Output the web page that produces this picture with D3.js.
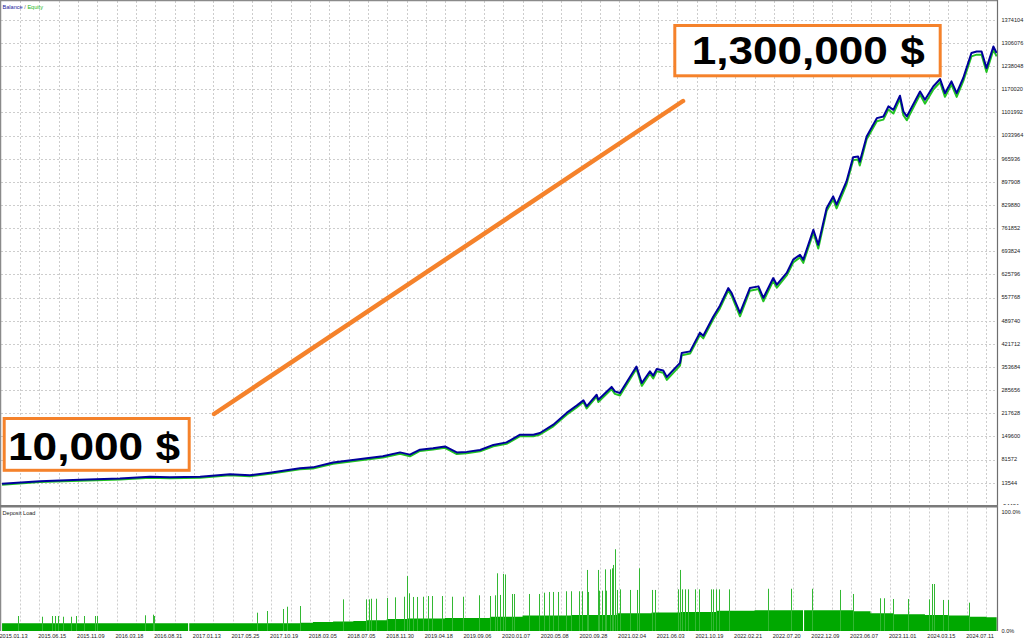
<!DOCTYPE html>
<html><head><meta charset="utf-8">
<script src="https://cdn.jsdelivr.net/npm/d3@7"></script>
<style>html,body{margin:0;padding:0;background:#fff;} svg{display:block;}</style>
</head><body>
<svg id="c" width="1024" height="640"></svg>
<script>
// ---------- DATA ----------
const axisDates = ["2015.01.13","2015.06.15","2015.11.09","2016.03.18","2016.08.31","2017.01.13","2017.05.25",
  "2017.10.19","2018.03.05","2018.07.05","2018.11.30","2019.04.18","2019.09.06","2020.01.07","2020.05.08",
  "2020.09.28","2021.02.04","2021.06.03","2021.10.19","2022.02.21","2022.07.20","2022.12.09","2023.06.07",
  "2023.11.01","2024.03.15","2024.07.11"];
const yTickValues = [1374104,1306076,1238048,1170020,1101992,1033964,965936,897908,829880,761852,693824,
  625796,557768,489740,421712,353684,285656,217628,149600,81572,13544,-54484];
const loadTickLabels = ["100.0%","0.0%"];

const curveDates = ["2014-11-03","2015-04-02","2015-09-04","2016-01-24","2016-05-17","2016-08-11","2016-11-28",
  "2017-03-11","2017-05-18","2017-08-01","2017-11-21","2018-01-06","2018-03-17","2018-07-01","2018-08-31",
  "2018-11-05","2018-12-12","2019-01-17","2019-03-05","2019-04-17","2019-05-30","2019-07-05","2019-08-23",
  "2019-10-06","2019-11-17","2019-12-30","2020-02-10","2020-03-02","2020-04-13","2020-05-28","2020-07-04",
  "2020-07-29","2020-08-10","2020-09-16","2020-09-22","2020-11-06","2020-11-17","2020-12-04","2021-01-28",
  "2021-02-14","2021-03-11","2021-03-21","2021-04-01","2021-04-21","2021-05-02","2021-06-13","2021-06-19",
  "2021-07-19","2021-08-23","2021-09-04","2021-10-10","2021-11-01","2021-11-28","2021-12-09","2022-01-05",
  "2022-02-06","2022-03-08","2022-03-27","2022-05-04","2022-05-18","2022-06-25","2022-07-20","2022-08-14",
  "2022-08-26","2022-10-02","2022-10-20","2022-11-20","2022-12-15","2022-12-31","2023-02-15","2023-03-18",
  "2023-04-10","2023-04-18","2023-05-20","2023-07-01","2023-07-26","2023-08-14","2023-09-02","2023-09-27",
  "2023-10-10","2023-10-23","2023-12-09","2023-12-26","2024-01-24","2024-02-17","2024-03-05","2024-03-26",
  "2024-04-11","2024-05-01","2024-05-26","2024-06-11","2024-06-26","2024-07-11","2024-08-01","2024-08-11"];
const balance = [10000,18000,22000,26000,31000,29500,31000,38500,35500,43000,56000,58500,73000,85000,91000,
  102500,96000,110500,114500,120000,102500,104000,109500,124500,132000,154500,154500,159500,184000,218500,240000,
  255500,238000,272000,257500,295000,282000,277000,355000,306500,340500,328000,347500,343500,324000,365500,394500,
  399500,454500,445500,502000,533500,585500,571000,512500,585500,590500,556500,615000,595500,630000,669000,683500,
  669000,757000,713000,821000,855000,830500,899000,970000,972500,957000,1031000,1085000,1090000,1119500,1109500,1151000,
  1104500,1090000,1163500,1139000,1178000,1200000,1158500,1193000,1158500,1203000,1276500,1281000,1281000,1232000,1295500,1276500];
const equity = [10000,17500,21500,25500,30500,29000,30500,37500,34500,42000,55000,57500,71500,84000,89500,
  101000,93500,109000,113000,118500,100000,102500,108000,122500,130000,152500,152000,157500,181500,215500,237000,
  253000,234000,269000,253000,291000,277000,272000,351000,300500,336000,322000,343000,339000,318000,360000,390000,
  395500,449500,440000,497000,528000,580500,565000,505000,580000,585000,549000,609500,589000,625000,663000,678000,
  662000,751000,704000,815000,849000,822000,892000,964000,966000,948000,1025000,1078000,1083000,1113000,1101000,1145000,
  1096000,1081000,1157000,1130000,1171000,1193000,1150000,1186000,1150000,1196000,1269000,1274000,1274000,1223000,1288000,1269000];

const loadBaseDates = ["2014-11-03","2016-10-17","2016-10-21","2017-11-21","2018-01-06","2018-03-17","2018-05-20",
  "2018-07-01","2018-09-15","2018-12-03","2019-04-17","2019-09-25","2020-01-07","2020-06-13","2020-11-23",
  "2021-03-16","2021-06-13","2021-10-21","2022-02-21","2022-08-25","2022-08-29","2022-12-15","2023-03-18",
  "2023-06-07","2023-09-02","2023-12-26","2024-03-15","2024-05-19","2024-07-11","2024-08-11"];
const loadBase = [6.5,0,6.5,7.0,7.5,8.0,8.5,9.0,10.0,10.5,11.0,12.0,13.0,13.5,15.0,15.5,16.0,17.0,17.5,0,17.5,17.5,
  16.5,15.0,14.0,13.5,13.0,12.0,11.5,11.5];

const loadSpikeDates = ["2015-01-06","2015-04-11","2015-05-18","2015-05-31","2015-06-13","2015-07-02","2015-08-01",
  "2015-08-20","2015-09-19","2015-10-31","2015-11-06","2016-04-24","2016-05-29","2016-06-05","2017-06-12","2017-07-20",
  "2017-09-19","2017-10-06","2017-11-21","2018-04-18","2018-06-29","2018-07-10","2018-07-15","2018-08-05","2018-09-15",
  "2018-10-16","2018-11-20","2018-12-03","2018-12-10","2018-12-24","2019-01-05","2019-01-29","2019-02-14","2019-03-01",
  "2019-04-05","2019-05-11","2019-06-23","2019-08-20","2019-09-25","2019-10-11","2019-10-18","2019-10-27","2019-11-06",
  "2019-11-13","2019-12-04","2019-12-10","2020-01-28","2020-02-29","2020-03-16","2020-03-31","2020-04-11","2020-04-29",
  "2020-05-26","2020-06-13","2020-07-14","2020-07-23","2020-08-10","2020-08-16","2020-09-20","2020-09-25","2020-10-06",
  "2020-10-16","2020-10-20","2020-10-31","2020-11-07","2020-11-11","2020-11-16","2020-11-23","2020-12-04","2021-01-06",
  "2021-01-29","2021-02-06","2021-03-16","2021-03-27","2021-06-05","2021-06-13","2021-06-19","2021-07-01","2021-07-13",
  "2021-08-05","2021-08-21","2021-09-30","2021-10-10","2021-10-21","2021-10-30","2021-12-01","2022-04-13","2022-07-12",
  "2022-09-26","2023-01-15","2023-03-18","2023-07-13","2023-07-28","2023-09-02","2023-10-29","2024-01-10","2024-01-19",
  "2024-01-26","2024-02-28","2024-03-16","2024-05-19"];
const loadSpikes = [12.6,12.0,12.6,12.6,12.6,12.0,12.0,12.6,12.6,12.6,12.6,13.2,13.7,12.6,15.4,16.8,18.5,20.4,21.0,
  26.6,26.6,26.6,27.1,27.1,27.7,28.3,28.8,46.2,31.7,28.6,28.6,28.8,29.4,29.4,29.4,28.8,28.8,30.0,29.4,30.0,48.5,30.3,
  47.9,47.5,31.1,31.1,31.1,31.1,32.2,32.8,32.8,32.8,33.4,33.4,33.4,33.4,51.3,32.8,51.3,33.9,33.9,51.8,33.9,51.8,52.7,
  55.5,68.7,34.5,35.0,34.5,34.5,52.7,34.5,34.5,35.0,51.3,35.0,35.0,35.0,35.0,35.0,35.0,35.0,35.0,35.0,35.0,35.5,35.5,
  35.5,34.5,31.1,27.5,27.5,26.9,26.9,26.6,39.5,39.5,26.1,26.1,23.8];

// ---------- SETUP ----------
const svg = d3.select("#c");
const parse = d3.timeParse("%Y-%m-%d");
const parseLbl = d3.timeParse("%Y.%m.%d");
const gridStart = 20, gridStep = 19.33;
const labelX = axisDates.map((d, i) => gridStart + 2 * gridStep * i);
const x = d3.scaleTime().domain(axisDates.map(parseLbl)).range(labelX);
const y = d3.scaleLinear().domain([-54484, 1374104]).range([505.8, 19.8]);
const yl = d3.scaleLinear().domain([0, 100]).range([631, 512]);

const mainTop = 1, mainBottom = 505, plotRight = 997.5, subTop = 507.5, subBottom = 631;
const font = "Liberation Sans, Arial, sans-serif";

svg.append("rect").attr("width", 1024).attr("height", 640).attr("fill", "#fff");

const defs = svg.append("defs");
defs.append("clipPath").attr("id", "mainClip").append("rect")
  .attr("x", 1).attr("y", mainTop).attr("width", plotRight - 1).attr("height", mainBottom - mainTop);
defs.append("clipPath").attr("id", "subClip").append("rect")
  .attr("x", 1).attr("y", subTop).attr("width", plotRight - 1).attr("height", subBottom - subTop);
defs.append("clipPath").attr("id", "axisClip").append("rect")
  .attr("x", 998).attr("y", 0).attr("width", 26).attr("height", mainBottom);

// vertical grid positions: label ticks plus midpoints
const gridXs = [];
labelX.forEach((v, i) => { gridXs.push(v); if (i < labelX.length - 1) gridXs.push((v + labelX[i + 1]) / 2); });

const grid = svg.append("g").attr("stroke", "#cdcdcd").attr("stroke-width", 1).attr("stroke-dasharray", "2,2");
grid.selectAll(".vm").data(gridXs).join("line")
  .attr("x1", d => Math.round(d) + 0.5).attr("x2", d => Math.round(d) + 0.5)
  .attr("y1", mainTop).attr("y2", mainBottom);
grid.selectAll(".vs").data(gridXs).join("line").attr("class", "vs")
  .attr("x1", d => Math.round(d) + 0.5).attr("x2", d => Math.round(d) + 0.5)
  .attr("y1", subTop).attr("y2", subBottom);
grid.selectAll(".h").data(yTickValues.slice(0, -1)).join("line").attr("class", "h")
  .attr("x1", 1).attr("x2", plotRight)
  .attr("y1", d => Math.round(y(d)) + 0.5).attr("y2", d => Math.round(y(d)) + 0.5);

// ---------- MAIN PANE: balance/equity ----------
const pts = curveDates.map((d, i) => ({ d: parse(d), b: balance[i], e: equity[i] }));
const gMain = svg.append("g").attr("clip-path", "url(#mainClip)");
gMain.append("path").datum(pts)
  .attr("fill", "none").attr("stroke", "#22c322").attr("stroke-width", 2).attr("stroke-linejoin", "round")
  .attr("d", d3.line().x(p => x(p.d)).y(p => y(p.e) + 0.8));
gMain.append("path").datum(pts)
  .attr("fill", "none").attr("stroke", "#00009c").attr("stroke-width", 2).attr("stroke-linejoin", "round")
  .attr("d", d3.line().x(p => x(p.d)).y(p => y(p.b)));

// ---------- SUB PANE: deposit load ----------
const base = loadBaseDates.map((d, i) => ({ d: parse(d), v: loadBase[i] }));
const gSub = svg.append("g").attr("clip-path", "url(#subClip)");
gSub.append("path").datum(base).attr("fill", "#00a800")
  .attr("d", d3.area().curve(d3.curveStepAfter).x(p => x(p.d)).y0(yl(0)).y1(p => yl(p.v)));
gSub.selectAll(".spike").data(loadSpikeDates.map((d, i) => ({ d: parse(d), v: loadSpikes[i] })))
  .join("line").attr("class", "spike")
  .attr("x1", p => Math.round(x(p.d)) + 0.5).attr("x2", p => Math.round(x(p.d)) + 0.5)
  .attr("y1", yl(0)).attr("y2", p => yl(p.v))
  .attr("stroke", "#33b833").attr("stroke-width", 1);

// ---------- FRAME ----------
svg.append("line").attr("x1", 0.5).attr("x2", 0.5).attr("y1", 0).attr("y2", subBottom).attr("stroke", "#8a8a8a").attr("stroke-width", 1.5);
svg.append("line").attr("x1", 0).attr("x2", plotRight + 0.5).attr("y1", 0.5).attr("y2", 0.5).attr("stroke", "#8a8a8a").attr("stroke-width", 1.5);
svg.append("line").attr("x1", plotRight).attr("x2", plotRight).attr("y1", 0).attr("y2", subBottom).attr("stroke", "#6e6e6e").attr("stroke-width", 1.2);
svg.append("line").attr("x1", 0).attr("x2", plotRight + 0.5).attr("y1", 506.2).attr("y2", 506.2).attr("stroke", "#7a7a7a").attr("stroke-width", 2.6);

// ---------- AXES TEXT ----------
svg.append("g").attr("clip-path", "url(#axisClip)")
  .selectAll("text").data(yTickValues).join("text")
  .attr("x", 1001.5).attr("y", d => y(d)).attr("dy", "0.35em")
  .attr("font-family", font).attr("font-size", 5.6).attr("fill", "#222")
  .text(d => d);

svg.append("text").attr("x", 1001.5).attr("y", yl(100)).attr("dy", "0.35em")
  .attr("font-family", font).attr("font-size", 5.6).attr("fill", "#222").text(loadTickLabels[0]);
svg.append("text").attr("x", 1001.5).attr("y", yl(0)).attr("dy", "0.35em")
  .attr("font-family", font).attr("font-size", 5.6).attr("fill", "#222").text(loadTickLabels[1]);

svg.append("g").selectAll("text").data(axisDates).join("text")
  .attr("x", (d, i) => x(parseLbl(d)) - 6.5).attr("y", 636).attr("dy", "0.35em")
  .attr("text-anchor", "middle")
  .attr("font-family", font).attr("font-size", 5.6).attr("fill", "#222")
  .text(d => d);

const legend = svg.append("text").attr("x", 2.5).attr("y", 7).attr("dy", "0.35em")
  .attr("font-family", font).attr("font-size", 5.6);
legend.append("tspan").attr("fill", "#1a1a9a").text("Balance");
legend.append("tspan").attr("fill", "#666").text(" / ");
legend.append("tspan").attr("fill", "#22b822").text("Equity");

svg.append("text").attr("x", 2.5).attr("y", 513.5).attr("dy", "0.35em")
  .attr("font-family", font).attr("font-size", 5.6).attr("fill", "#222").text("Deposit Load");

// ---------- ANNOTATIONS ----------
const orange = "#f5822b";
svg.append("line").attr("x1", 214).attr("y1", 414).attr("x2", 683).attr("y2", 101)
  .attr("stroke", orange).attr("stroke-width", 4.5).attr("stroke-linecap", "round");

svg.append("rect").attr("x", 4.2).attr("y", 418.5).attr("width", 185).attr("height", 51.8)
  .attr("fill", "#fff").attr("stroke", orange).attr("stroke-width", 3);
svg.append("text").attr("x", 8).attr("y", 460)
  .attr("font-family", font).attr("font-weight", "bold").attr("font-size", 39).attr("fill", "#000")
  .attr("textLength", 172).attr("lengthAdjust", "spacingAndGlyphs").text("10,000 $");

svg.append("rect").attr("x", 674.8).attr("y", 25.5).attr("width", 265.4).attr("height", 50.3)
  .attr("fill", "#fff").attr("stroke", orange).attr("stroke-width", 3);
svg.append("text").attr("x", 691.7).attr("y", 64.3)
  .attr("font-family", font).attr("font-weight", "bold").attr("font-size", 39).attr("fill", "#000")
  .attr("textLength", 233).attr("lengthAdjust", "spacingAndGlyphs").text("1,300,000 $");
</script>
</body></html>
